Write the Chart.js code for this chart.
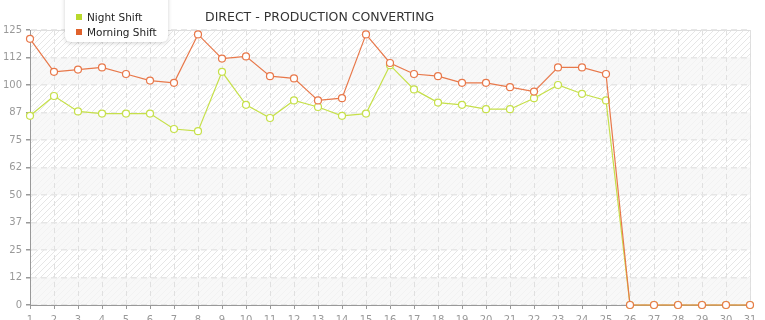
<!DOCTYPE html>
<html>
<head>
<meta charset="utf-8">
<script src="https://cdn.jsdelivr.net/npm/chart.js@4/dist/chart.umd.min.js"></script>
<style>
  html, body { margin: 0; padding: 0; background: #fff; overflow: hidden; }
  #wrap { position: relative; width: 765px; height: 320px; font-family: "DejaVu Sans", Verdana, sans-serif; }
  #title { position: absolute; left: 205px; top: 9px; font-size: 12.5px; color: #333; white-space: nowrap; }
  #legend { position: absolute; left: 65px; top: -6px; width: 103px; height: 48px; background: #fff;
            border-radius: 0 0 6px 6px; box-shadow: 0 1px 4px rgba(0,0,0,0.18); }
  .item { position: absolute; left: 11px; font-size: 10.5px; color: #222; white-space: nowrap; line-height: 12px; }
  .item span { display: inline-block; width: 6px; height: 6px; margin-right: 5px; vertical-align: 1px; }
</style>
</head>
<body>
<div id="wrap">
  <canvas id="myChart" width="765" height="320"></canvas>
  <div id="legend">
    <div class="item" style="top:17px"><span style="background:#b9d92c"></span>Night Shift</div>
    <div class="item" style="top:32px"><span style="background:#e0622c"></span>Morning Shift</div>
  </div>
  <div id="title">DIRECT - PRODUCTION CONVERTING</div>
</div>
<script>
var days = [];
for (var d = 1; d <= 31; d++) days.push(String(d));

var nightShift   = [86, 95, 88, 87, 87, 87, 80, 79, 106, 91, 85, 93, 90, 86, 87, 109, 98, 92, 91, 89, 89, 94, 100, 96, 93, 0, 0, 0, 0, 0, 0];
var morningShift = [121, 106, 107, 108, 105, 102, 101, 123, 112, 113, 104, 103, 93, 94, 123, 110, 105, 104, 101, 101, 99, 97, 108, 108, 105, 0, 0, 0, 0, 0, 0];

var yMax = 125;
var yStep = 12.5;

// hatched background with alternating bands
var hatch = document.createElement('canvas');
hatch.width = 6; hatch.height = 6;
var hc = hatch.getContext('2d');
hc.strokeStyle = '#e6e6e6';
hc.lineWidth = 1;
hc.beginPath();
hc.moveTo(0, 6); hc.lineTo(6, 0);
hc.moveTo(-3, 3); hc.lineTo(3, -3);
hc.moveTo(3, 9); hc.lineTo(9, 3);
hc.stroke();

var bgPlugin = {
  id: 'bg',
  beforeDraw: function(chart) {
    var c = chart.ctx, a = chart.chartArea, y = chart.scales.y;
    c.save();
    c.fillStyle = '#fff';
    c.fillRect(a.left, a.top, a.right - a.left, a.bottom - a.top);
    c.fillStyle = c.createPattern(hatch, 'repeat');
    c.fillRect(a.left, a.top, a.right - a.left, a.bottom - a.top);
    c.fillStyle = 'rgba(246,246,246,0.75)';
    for (var v = 0; v < yMax; v += yStep * 2) {
      var y1 = y.getPixelForValue(v + yStep), y0 = y.getPixelForValue(v);
      c.fillRect(a.left, y1, a.right - a.left, y0 - y1);
    }
    c.strokeStyle = '#dddddd';
    c.lineWidth = 1;
    c.beginPath();
    c.moveTo(a.left, a.top + 0.5); c.lineTo(a.right + 0.5, a.top + 0.5); c.lineTo(a.right + 0.5, a.bottom);
    c.stroke();
    c.restore();
  }
};

var ctx = document.getElementById('myChart').getContext('2d');
var myChart = new Chart(ctx, {
  type: 'line',
  data: {
    labels: days,
    datasets: [
      {
        label: 'Night Shift',
        data: nightShift,
        borderColor: '#c6e04a',
        backgroundColor: '#ffffff',
        pointBackgroundColor: '#ffffff',
        pointBorderColor: '#c6e04a',
        borderWidth: 1.2,
        pointRadius: 3.5,
        pointBorderWidth: 1.2,
        tension: 0,
        order: 1
      },
      {
        label: 'Morning Shift',
        data: morningShift,
        borderColor: '#e8784a',
        backgroundColor: '#ffffff',
        pointBackgroundColor: '#ffffff',
        pointBorderColor: '#e8784a',
        borderWidth: 1.2,
        pointRadius: 3.5,
        pointBorderWidth: 1.2,
        tension: 0,
        order: 0
      }
    ]
  },
  options: {
    responsive: false,
    animation: false,
    clip: false,
    layout: { padding: { top: 30, right: 15, left: 0, bottom: 0 } },
    plugins: { legend: { display: false }, title: { display: false }, tooltip: { enabled: false } },
    scales: {
      x: {
        offset: false,
        afterFit: function(s) { s.height = 15; },
        grid: { color: '#e0e0e0', lineWidth: 1, tickColor: '#999', tickLength: 4, tickBorderDash: [] },
        border: { color: '#999', width: 1, dash: [5, 4] },
        ticks: { color: '#999', font: { family: 'DejaVu Sans', size: 10 }, padding: 5, maxRotation: 0, autoSkip: false }
      },
      y: {
        min: 0,
        max: yMax,
        afterFit: function(s) { s.width = 30; },
        grid: { color: '#e6e6e6', lineWidth: 1.5, tickColor: '#999', tickLength: 4, tickBorderDash: [] },
        border: { color: '#999', width: 1, dash: [6, 4] },
        ticks: {
          stepSize: yStep,
          color: '#999',
          font: { family: 'DejaVu Sans', size: 10 },
          padding: 4,
          callback: function(v) { return Math.floor(v); }
        }
      }
    }
  },
  plugins: [bgPlugin]
});
</script>
</body>
</html>
